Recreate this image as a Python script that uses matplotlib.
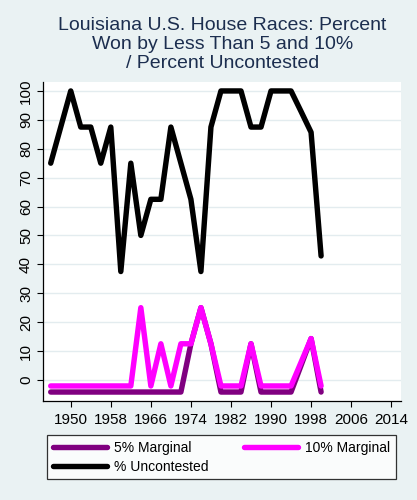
import matplotlib
matplotlib.use("Agg")
import matplotlib.pyplot as plt

# Louisiana U.S. House races, every election 1946-2000
years = list(range(1946, 2001, 2))

# zero years are drawn a little below 0 in the original (-4 and -2)
marg5 = [-4.2, -4.2, -4.2, -4.2, -4.2, -4.2, -4.2, -4.2, -4.2, -4.2,
         -4.2, -4.2, -4.2, -4.2, 12.5, 25, 12.5, -4.2, -4.2, -4.2,
         12.5, -4.2, -4.2, -4.2, -4.2, 5.0, 14.3, -4.2]
marg10 = [-2.1, -2.1, -2.1, -2.1, -2.1, -2.1, -2.1, -2.1, -2.1, 25,
          -2.1, 12.5, -2.1, 12.5, 12.5, 25, 12.5, -2.1, -2.1, -2.1,
          12.5, -2.1, -2.1, -2.1, -2.1, 6.1, 14.3, -2.1]
uncont = [75, 87.5, 100, 87.5, 87.5, 75, 87.5, 37.5, 75, 50,
          62.5, 62.5, 87.5, 75, 62.5, 37.5, 87.5, 100, 100, 100,
          87.5, 87.5, 100, 100, 100, 92.9, 85.7, 42.9]

xticks = list(range(1950, 2015, 8))
yticks = list(range(0, 101, 10))

bg = "#EAF2F3"
plt.rcParams["font.family"] = ["Liberation Sans", "DejaVu Sans"]

fig = plt.figure(figsize=(4.17, 5.0), dpi=100, facecolor=bg)
ax = fig.add_axes([0.1024, 0.1986, 0.8585, 0.638])
ax.set_facecolor("white")

lw = 3.9
l5, = ax.plot(years, marg5, color="#800080", lw=lw, solid_capstyle="round",
              solid_joinstyle="round", label="5% Marginal", zorder=3)
l10, = ax.plot(years, marg10, color="#FF00FF", lw=lw, solid_capstyle="round",
               solid_joinstyle="round", label="10% Marginal", zorder=4)
lu, = ax.plot(years, uncont, color="black", lw=lw, solid_capstyle="round",
              solid_joinstyle="round", label="% Uncontested", zorder=5)

ax.set_xlim(1944.4, 2015.9)
ax.set_ylim(-7.2, 103.2)
ax.set_xticks(xticks)
ax.set_yticks(yticks)
ax.tick_params(axis="both", direction="out", length=4, width=0.8,
               labelsize=11, colors="black")
ax.tick_params(axis="y", labelrotation=90)
for lab in ax.get_yticklabels():
    lab.set_va("center")
ax.tick_params(axis="x", pad=5)
ax.tick_params(axis="y", pad=3)

ax.grid(axis="y", color="#E3ECEF", lw=1.0, zorder=0)
ax.set_axisbelow(True)
for s in ["top", "right"]:
    ax.spines[s].set_visible(False)
for s in ["left", "bottom"]:
    ax.spines[s].set_linewidth(0.9)

fig.text(0.534, 0.966, "Louisiana U.S. House Races: Percent\nWon by Less Than 5 and 10%\n/ Percent Uncontested",
         ha="center", va="top", fontsize=14, color="#1C2E4F", linespacing=1.16)

# legend fills row by row in the original, so order handles for column fill
leg = fig.legend([l5, lu, l10], ["5% Marginal", "% Uncontested", "10% Marginal"],
                 loc="lower left", bbox_to_anchor=(0.1134, 0.0414, 0.8356, 0.092),
                 mode="expand", ncol=2, fontsize=10, frameon=True, fancybox=False,
                 edgecolor="black", handlelength=3.9, handletextpad=0.5,
                 borderaxespad=0, labelspacing=0.35, columnspacing=2.0)
leg.get_frame().set_linewidth(0.9)

fig.savefig("out.png", dpi=100, facecolor=bg)
